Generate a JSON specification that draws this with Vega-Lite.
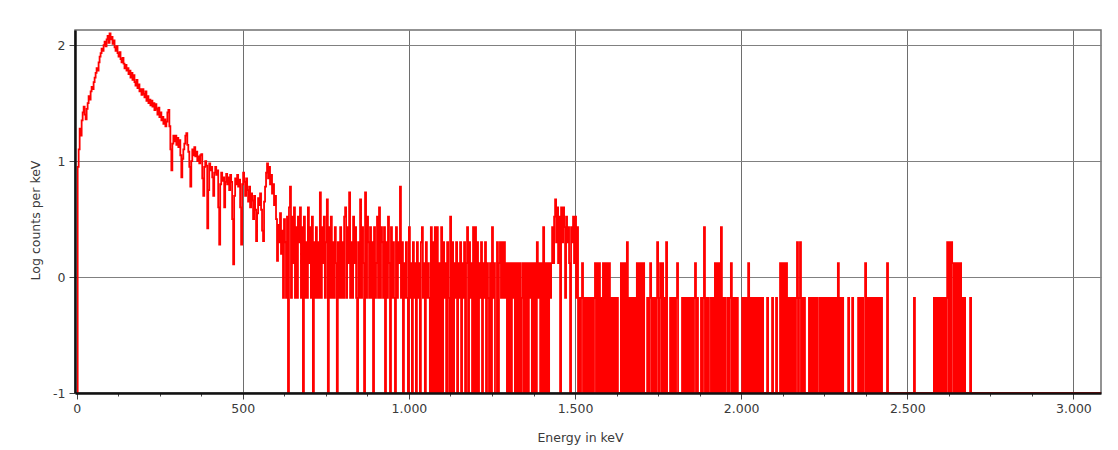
{
"$schema": "https://vega.github.io/schema/vega-lite/v6.json",
"width": 1026,
"height": 363,
"autosize": {"type": "none"},
"padding": {"left": 75, "top": 30, "right": 17, "bottom": 57},
"background": "white",
"config": {
  "view": {"stroke": "#707070", "strokeWidth": 1.5},
  "axis": {"labelFont": "DejaVu Sans", "titleFont": "DejaVu Sans", "labelFontSize": 12.5, "titleFontSize": 12.5, "titleFontWeight": "normal", "labelColor": "#3a3a3a", "titleColor": "#3a3a3a"}
},
"data": {"values": [
{"e":0,"v":-1},{"e":3,"v":0.95},{"e":6,"v":1.1},{"e":9,"v":1.28},{"e":12,"v":1.22},{"e":15,"v":1.35},{"e":18,"v":1.42},{"e":21,"v":1.47},{"e":24,"v":1.4},{"e":27,"v":1.36},{"e":30,"v":1.45},{"e":33,"v":1.5},{"e":36,"v":1.56},{"e":39,"v":1.53},{"e":42,"v":1.6},{"e":45,"v":1.64},{"e":48,"v":1.62},{"e":51,"v":1.68},{"e":54,"v":1.72},{"e":57,"v":1.76},{"e":60,"v":1.8},{"e":63,"v":1.78},{"e":66,"v":1.85},{"e":69,"v":1.9},{"e":72,"v":1.93},{"e":75,"v":1.97},{"e":78,"v":1.95},{"e":81,"v":2.0},{"e":84,"v":2.03},{"e":87,"v":1.99},{"e":90,"v":2.05},{"e":93,"v":2.08},{"e":96,"v":2.02},{"e":99,"v":2.1},{"e":102,"v":2.05},{"e":105,"v":2.07},{"e":108,"v":2.01},{"e":111,"v":2.04},{"e":114,"v":1.98},{"e":117,"v":1.95},{"e":120,"v":1.99},{"e":123,"v":1.93},{"e":126,"v":1.9},{"e":129,"v":1.94},{"e":132,"v":1.88},{"e":135,"v":1.85},{"e":138,"v":1.89},{"e":141,"v":1.84},{"e":144,"v":1.8},{"e":147,"v":1.83},{"e":150,"v":1.78},{"e":153,"v":1.8},{"e":156,"v":1.75},{"e":159,"v":1.78},{"e":162,"v":1.72},{"e":165,"v":1.76},{"e":168,"v":1.7},{"e":171,"v":1.74},{"e":174,"v":1.68},{"e":177,"v":1.65},{"e":180,"v":1.7},{"e":183,"v":1.63},{"e":186,"v":1.66},{"e":189,"v":1.6},{"e":192,"v":1.62},{"e":195,"v":1.57},{"e":198,"v":1.62},{"e":201,"v":1.58},{"e":204,"v":1.55},{"e":207,"v":1.6},{"e":210,"v":1.52},{"e":213,"v":1.56},{"e":216,"v":1.5},{"e":219,"v":1.53},{"e":222,"v":1.48},{"e":225,"v":1.52},{"e":228,"v":1.47},{"e":231,"v":1.5},{"e":234,"v":1.44},{"e":237,"v":1.49},{"e":240,"v":1.45},{"e":243,"v":1.4},{"e":246,"v":1.46},{"e":249,"v":1.38},{"e":252,"v":1.42},{"e":255,"v":1.35},{"e":258,"v":1.38},{"e":261,"v":1.32},{"e":264,"v":1.36},{"e":267,"v":1.3},{"e":270,"v":1.34},{"e":273,"v":1.42},{"e":276,"v":1.44},{"e":279,"v":1.3},{"e":282,"v":1.1},{"e":285,"v":0.92},{"e":288,"v":1.15},{"e":291,"v":1.22},{"e":294,"v":1.17},{"e":297,"v":1.22},{"e":300,"v":1.14},{"e":303,"v":1.2},{"e":306,"v":1.12},{"e":309,"v":1.18},{"e":312,"v":1.05},{"e":315,"v":0.86},{"e":318,"v":1.02},{"e":321,"v":1.1},{"e":324,"v":1.15},{"e":327,"v":1.22},{"e":330,"v":1.24},{"e":333,"v":1.14},{"e":336,"v":1.08},{"e":339,"v":0.95},{"e":342,"v":0.78},{"e":345,"v":1.0},{"e":348,"v":1.1},{"e":351,"v":1.05},{"e":354,"v":1.12},{"e":357,"v":1.04},{"e":360,"v":1.08},{"e":363,"v":1.0},{"e":366,"v":1.04},{"e":369,"v":0.98},{"e":372,"v":1.05},{"e":375,"v":1.06},{"e":378,"v":0.85},{"e":381,"v":0.7},{"e":384,"v":0.95},{"e":387,"v":1.0},{"e":390,"v":0.96},{"e":393,"v":0.42},{"e":396,"v":0.75},{"e":399,"v":0.98},{"e":402,"v":0.92},{"e":405,"v":0.95},{"e":408,"v":0.86},{"e":411,"v":0.7},{"e":414,"v":0.9},{"e":417,"v":0.95},{"e":420,"v":0.88},{"e":423,"v":0.92},{"e":426,"v":0.6},{"e":429,"v":0.28},{"e":432,"v":0.8},{"e":435,"v":0.9},{"e":438,"v":0.83},{"e":441,"v":0.86},{"e":444,"v":0.6},{"e":447,"v":0.82},{"e":450,"v":0.89},{"e":453,"v":0.8},{"e":456,"v":0.86},{"e":459,"v":0.75},{"e":462,"v":0.88},{"e":465,"v":0.82},{"e":468,"v":0.5},{"e":471,"v":0.11},{"e":474,"v":0.7},{"e":477,"v":0.85},{"e":480,"v":0.8},{"e":483,"v":0.88},{"e":486,"v":0.78},{"e":489,"v":0.84},{"e":492,"v":0.6},{"e":495,"v":0.28},{"e":498,"v":0.8},{"e":501,"v":0.9},{"e":504,"v":0.82},{"e":507,"v":0.7},{"e":510,"v":0.85},{"e":513,"v":0.75},{"e":516,"v":0.65},{"e":519,"v":0.78},{"e":522,"v":0.6},{"e":525,"v":0.72},{"e":528,"v":0.66},{"e":531,"v":0.5},{"e":534,"v":0.7},{"e":537,"v":0.58},{"e":540,"v":0.31},{"e":543,"v":0.55},{"e":546,"v":0.68},{"e":549,"v":0.62},{"e":552,"v":0.72},{"e":555,"v":0.58},{"e":558,"v":0.4},{"e":561,"v":0.31},{"e":564,"v":0.65},{"e":567,"v":0.78},{"e":570,"v":0.9},{"e":573,"v":0.98},{"e":576,"v":0.85},{"e":579,"v":0.95},{"e":582,"v":0.8},{"e":585,"v":0.88},{"e":588,"v":0.72},{"e":591,"v":0.8},{"e":594,"v":0.62},{"e":597,"v":0.7},{"e":600,"v":0.5},{"e":603,"v":0.14},{"e":606,"v":0.45},{"e":609,"v":0.3},{"e":612,"v":0.55},{"e":615,"v":0.2},{"e":618,"v":0.4},{"e":621,"v":-0.18},{"e":624,"v":0.5},{"e":627,"v":0.3},
{"e":630,"v":-0.18},{"e":633,"v":0.52},{"e":636,"v":-1},{"e":639,"v":0.6},{"e":642,"v":0.78},{"e":645,"v":-0.18},{"e":648,"v":0.52},{"e":651,"v":0.12},{"e":654,"v":0.6},{"e":657,"v":-0.18},{"e":660,"v":0.43},{"e":663,"v":-0.18},{"e":666,"v":0.52},{"e":669,"v":0.3},{"e":672,"v":0.6},{"e":675,"v":-0.18},{"e":678,"v":0.43},{"e":681,"v":-1},{"e":684,"v":0.52},{"e":687,"v":-0.18},{"e":690,"v":0.3},{"e":693,"v":-0.18},{"e":696,"v":0.6},{"e":699,"v":0.12},{"e":702,"v":0.43},{"e":705,"v":-0.18},{"e":708,"v":0.52},{"e":711,"v":-1},{"e":714,"v":0.3},{"e":717,"v":-0.18},{"e":720,"v":0.43},{"e":723,"v":-0.18},{"e":726,"v":0.3},{"e":729,"v":-0.18},{"e":732,"v":0.73},{"e":735,"v":-0.18},{"e":738,"v":0.43},{"e":741,"v":0.12},{"e":744,"v":0.52},{"e":747,"v":-0.18},{"e":750,"v":0.3},{"e":753,"v":0.67},{"e":756,"v":-1},{"e":759,"v":0.43},{"e":762,"v":-0.18},{"e":765,"v":0.52},{"e":768,"v":-0.18},{"e":771,"v":0.3},{"e":774,"v":-0.18},{"e":777,"v":0.43},{"e":780,"v":0.12},{"e":783,"v":-1},{"e":786,"v":0.3},{"e":789,"v":-0.18},{"e":793,"v":0.43},{"e":796,"v":-0.18},{"e":799,"v":0.3},{"e":802,"v":-0.18},{"e":805,"v":0.52},{"e":808,"v":0.6},{"e":811,"v":-0.18},{"e":814,"v":0.43},{"e":817,"v":0.12},{"e":820,"v":0.73},{"e":823,"v":-0.18},{"e":826,"v":0.3},{"e":829,"v":-0.18},{"e":832,"v":0.52},{"e":835,"v":0.12},{"e":838,"v":0.43},{"e":841,"v":-0.18},{"e":844,"v":-1},{"e":847,"v":0.3},{"e":850,"v":-0.18},{"e":853,"v":0.67},{"e":856,"v":-0.18},{"e":859,"v":0.43},{"e":862,"v":0.12},{"e":865,"v":-1},{"e":868,"v":0.73},{"e":871,"v":-0.18},{"e":874,"v":0.52},{"e":877,"v":0.3},{"e":880,"v":-0.18},{"e":883,"v":0.43},{"e":886,"v":-0.18},{"e":889,"v":0.3},{"e":892,"v":-1},{"e":895,"v":0.43},{"e":898,"v":-0.18},{"e":901,"v":0.12},{"e":904,"v":0.52},{"e":907,"v":-0.18},{"e":910,"v":0.6},{"e":913,"v":-0.18},{"e":916,"v":0.43},{"e":919,"v":0.3},{"e":922,"v":-0.18},{"e":925,"v":0.43},{"e":928,"v":-1},{"e":931,"v":0.3},{"e":934,"v":-0.18},{"e":937,"v":0.52},{"e":940,"v":0.12},{"e":943,"v":-1},{"e":946,"v":0.43},{"e":949,"v":-0.18},{"e":952,"v":0.3},{"e":955,"v":-0.18},{"e":958,"v":-1},{"e":961,"v":0.43},{"e":964,"v":-0.18},{"e":967,"v":0.3},{"e":970,"v":0.12},{"e":973,"v":0.78},{"e":976,"v":-0.18},{"e":979,"v":0.3},{"e":982,"v":-1},{"e":985,"v":0.12},{"e":988,"v":-0.18},{"e":991,"v":0.3},{"e":994,"v":-0.18},{"e":997,"v":-1},{"e":1000,"v":0.43},{"e":1003,"v":-0.18},{"e":1006,"v":0.12},{"e":1009,"v":-1},{"e":1012,"v":0.3},{"e":1015,"v":-0.18},{"e":1018,"v":0.12},{"e":1021,"v":-1},{"e":1024,"v":0.3},{"e":1027,"v":-0.18},{"e":1030,"v":0.12},{"e":1033,"v":-1},{"e":1036,"v":0.3},{"e":1039,"v":0.43},{"e":1042,"v":-0.18},{"e":1045,"v":0.12},{"e":1048,"v":-1},{"e":1051,"v":0.3},{"e":1054,"v":-0.18},{"e":1057,"v":0.12},{"e":1060,"v":-0.18},{"e":1063,"v":-1},{"e":1066,"v":0.43},{"e":1069,"v":-1},{"e":1072,"v":0.3},{"e":1075,"v":-1},{"e":1078,"v":0.43},{"e":1081,"v":-1},{"e":1084,"v":0.43},{"e":1087,"v":-1},{"e":1090,"v":0.12},{"e":1094,"v":-1},{"e":1097,"v":0.43},{"e":1100,"v":-1},{"e":1103,"v":0.3},{"e":1106,"v":-0.18},{"e":1109,"v":0.12},{"e":1112,"v":-1},{"e":1115,"v":0.3},{"e":1118,"v":-0.18},{"e":1121,"v":-1},{"e":1124,"v":0.52},{"e":1127,"v":-1},{"e":1130,"v":0.3},{"e":1133,"v":-1},{"e":1136,"v":0.12},{"e":1139,"v":-0.18},{"e":1142,"v":0.3},{"e":1145,"v":-1},{"e":1148,"v":0.12},{"e":1151,"v":-0.18},{"e":1154,"v":0.3},{"e":1157,"v":-1},{"e":1160,"v":0.12},{"e":1163,"v":-0.18},{"e":1166,"v":0.3},{"e":1169,"v":-1},{"e":1172,"v":0.12},{"e":1175,"v":0.43},{"e":1178,"v":-1},{"e":1181,"v":0.3},{"e":1184,"v":-0.18},{"e":1187,"v":0.12},{"e":1190,"v":-1},{"e":1193,"v":0.43},{"e":1196,"v":-1},{"e":1199,"v":0.43},{"e":1202,"v":-1},{"e":1205,"v":0.3},{"e":1208,"v":-1},{"e":1211,"v":0.12},{"e":1214,"v":-0.18},{"e":1217,"v":0.3},{"e":1220,"v":-1},{"e":1223,"v":0.12},{"e":1226,"v":-0.18},{"e":1229,"v":0.3},{"e":1232,"v":-1},{"e":1235,"v":0.12},{"e":1238,"v":-0.18},{"e":1241,"v":-1},{"e":1244,"v":0.12},{"e":1247,"v":-1},{"e":1250,"v":0.43},{"e":1253,"v":-0.18},{"e":1256,"v":0.12},{"e":1259,"v":-1},{"e":1262,"v":-1},{"e":1265,"v":0.3},{"e":1268,"v":-1},{"e":1271,"v":0.12},{"e":1274,"v":0.3},{"e":1277,"v":-0.18},{"e":1280,"v":0.3},{"e":1283,"v":-0.18},{"e":1286,"v":0.3},{"e":1289,"v":-0.18},{"e":1292,"v":0.12},{"e":1295,"v":-1},{"e":1298,"v":0.12},{"e":1301,"v":-1},{"e":1304,"v":0.12},{"e":1307,"v":-1},{"e":1310,"v":0.12},{"e":1313,"v":-0.18},{"e":1316,"v":0.12},{"e":1319,"v":-1},{"e":1322,"v":0.12},{"e":1325,"v":-1},{"e":1328,"v":0.12},{"e":1331,"v":-1},{"e":1334,"v":0.12},{"e":1337,"v":-1},{"e":1340,"v":-0.18},{"e":1343,"v":0.12},{"e":1346,"v":-1},{"e":1349,"v":0.12},{"e":1352,"v":-1},{"e":1355,"v":0.12},{"e":1358,"v":-1},{"e":1361,"v":0.12},{"e":1364,"v":-0.18},{"e":1367,"v":0.12},{"e":1370,"v":-1},{"e":1373,"v":0.12},{"e":1376,"v":-1},{"e":1379,"v":0.12},{"e":1382,"v":-1},{"e":1385,"v":0.3},{"e":1388,"v":-0.18},{"e":1391,"v":0.12},{"e":1395,"v":-1},{"e":1398,"v":0.12},{"e":1401,"v":-1},{"e":1404,"v":0.43},{"e":1407,"v":-1},{"e":1410,"v":0.12},{"e":1413,"v":-1},{"e":1416,"v":0.12},{"e":1419,"v":-1},{"e":1422,"v":0.12},{"e":1425,"v":-0.18},{"e":1428,"v":0.12},{"e":1431,"v":0.43},{"e":1434,"v":0.12},{"e":1437,"v":0.52},{"e":1440,"v":0.67},{"e":1443,"v":0.3},{"e":1446,"v":0.6},{"e":1449,"v":0.12},{"e":1452,"v":0.52},{"e":1455,"v":-1},{"e":1458,"v":0.6},{"e":1461,"v":0.3},{"e":1464,"v":0.6},{"e":1467,"v":0.43},{"e":1470,"v":-0.18},{"e":1473,"v":0.52},{"e":1476,"v":0.3},{"e":1479,"v":0.43},{"e":1482,"v":0.12},{"e":1485,"v":-1},{"e":1488,"v":0.43},{"e":1491,"v":0.3},{"e":1494,"v":0.52},{"e":1497,"v":0.12},{"e":1500,"v":0.52},{"e":1503,"v":-0.18},{"e":1506,"v":0.43},{"e":1509,"v":-1},{"e":1512,"v":-0.18},{"e":1515,"v":-1},{"e":1518,"v":-0.18},{"e":1521,"v":0.12},{"e":1524,"v":-1},{"e":1527,"v":-0.18},{"e":1530,"v":-1},{"e":1533,"v":-0.18},{"e":1536,"v":-1},{"e":1539,"v":-0.18},{"e":1542,"v":-1},{"e":1545,"v":-0.18},{"e":1548,"v":-1},{"e":1551,"v":-0.18},{"e":1554,"v":-1},{"e":1557,"v":-0.18},{"e":1560,"v":0.12},{"e":1563,"v":-1},{"e":1566,"v":0.12},{"e":1569,"v":-1},{"e":1572,"v":0.12},{"e":1575,"v":-1},{"e":1578,"v":-0.18},{"e":1581,"v":-1},{"e":1584,"v":0.12},{"e":1587,"v":-1},{"e":1590,"v":0.12},{"e":1593,"v":-1},{"e":1596,"v":0.12},{"e":1599,"v":-1},{"e":1602,"v":0.12},{"e":1605,"v":-1},{"e":1608,"v":-0.18},{"e":1611,"v":-1},{"e":1614,"v":-0.18},{"e":1617,"v":-1},{"e":1620,"v":-0.18},{"e":1623,"v":-1},{"e":1626,"v":-0.18},{"e":1629,"v":-1},{"e":1638,"v":0.12},{"e":1641,"v":-1},{"e":1644,"v":0.12},{"e":1647,"v":-1},{"e":1650,"v":0.12},{"e":1653,"v":-1},{"e":1656,"v":0.3},{"e":1659,"v":-1},{"e":1662,"v":-0.18},{"e":1665,"v":-1},{"e":1668,"v":-0.18},{"e":1671,"v":-1},{"e":1674,"v":-0.18},{"e":1677,"v":-1},{"e":1680,"v":-0.18},{"e":1683,"v":-1},{"e":1686,"v":0.12},{"e":1689,"v":-1},{"e":1692,"v":0.12},{"e":1696,"v":-1},{"e":1699,"v":0.12},{"e":1702,"v":-1},{"e":1705,"v":0.12},{"e":1708,"v":-1},{"e":1717,"v":-0.18},{"e":1720,"v":-1},{"e":1723,"v":-0.18},{"e":1726,"v":0.12},{"e":1729,"v":-1},{"e":1732,"v":-0.18},{"e":1735,"v":-1},{"e":1738,"v":-0.18},{"e":1741,"v":-1},{"e":1744,"v":-0.18},{"e":1747,"v":0.3},{"e":1750,"v":-1},{"e":1753,"v":-0.18},{"e":1756,"v":0.12},{"e":1759,"v":-1},{"e":1762,"v":0.12},{"e":1765,"v":-1},{"e":1768,"v":-0.18},{"e":1771,"v":-1},{"e":1774,"v":0.3},{"e":1777,"v":-1},{"e":1786,"v":-0.18},{"e":1789,"v":-1},{"e":1792,"v":-0.18},{"e":1795,"v":-1},{"e":1798,"v":-0.18},{"e":1801,"v":-1},{"e":1804,"v":-0.18},{"e":1807,"v":0.12},{"e":1810,"v":-1},{"e":1822,"v":-0.18},{"e":1825,"v":-1},{"e":1828,"v":-0.18},{"e":1831,"v":-1},{"e":1834,"v":-0.18},{"e":1837,"v":-1},{"e":1840,"v":-0.18},{"e":1843,"v":-1},{"e":1846,"v":-0.18},{"e":1849,"v":-1},{"e":1852,"v":-0.18},{"e":1855,"v":-1},{"e":1858,"v":-0.18},{"e":1861,"v":0.12},{"e":1864,"v":-1},{"e":1867,"v":-0.18},{"e":1870,"v":-1},{"e":1879,"v":-0.18},{"e":1882,"v":-1},{"e":1885,"v":-0.18},{"e":1888,"v":0.43},{"e":1891,"v":-1},{"e":1894,"v":-0.18},{"e":1897,"v":-1},{"e":1900,"v":-0.18},{"e":1903,"v":-1},{"e":1909,"v":-0.18},{"e":1912,"v":-1},{"e":1915,"v":-0.18},{"e":1918,"v":-1},{"e":1921,"v":0.12},{"e":1924,"v":-1},{"e":1927,"v":0.12},{"e":1930,"v":-1},{"e":1933,"v":0.12},{"e":1936,"v":-1},{"e":1939,"v":0.43},{"e":1942,"v":-1},{"e":1945,"v":-0.18},{"e":1948,"v":-1},{"e":1951,"v":-0.18},{"e":1954,"v":-1},{"e":1960,"v":-0.18},{"e":1963,"v":-1},{"e":1966,"v":-0.18},{"e":1969,"v":0.12},{"e":1972,"v":-1},{"e":1975,"v":-0.18},{"e":1978,"v":-1},{"e":1981,"v":-0.18},{"e":1984,"v":-1},{"e":1987,"v":-0.18},{"e":1990,"v":-1},{"e":2003,"v":-0.18},{"e":2006,"v":-1},{"e":2009,"v":-0.18},{"e":2012,"v":-1},{"e":2015,"v":-0.18},{"e":2018,"v":-1},{"e":2021,"v":0.12},{"e":2024,"v":-1},{"e":2027,"v":-0.18},{"e":2030,"v":-1},{"e":2033,"v":-0.18},{"e":2036,"v":-1},{"e":2039,"v":-0.18},{"e":2042,"v":-1},{"e":2045,"v":-0.18},{"e":2048,"v":-1},{"e":2051,"v":-0.18},{"e":2054,"v":-1},{"e":2057,"v":-0.18},{"e":2060,"v":-1},{"e":2063,"v":-0.18},{"e":2066,"v":-1},{"e":2078,"v":-0.18},{"e":2081,"v":-1},{"e":2093,"v":-0.18},{"e":2096,"v":-1},{"e":2105,"v":-0.18},{"e":2108,"v":-1},{"e":2117,"v":0.12},{"e":2120,"v":-1},{"e":2123,"v":0.12},{"e":2126,"v":-1},{"e":2129,"v":0.12},{"e":2132,"v":-1},{"e":2135,"v":0.12},{"e":2138,"v":-1},{"e":2141,"v":-0.18},{"e":2144,"v":-1},{"e":2147,"v":-0.18},{"e":2150,"v":-1},{"e":2153,"v":-0.18},{"e":2156,"v":-1},{"e":2159,"v":-0.18},{"e":2162,"v":-1},{"e":2165,"v":-0.18},{"e":2168,"v":0.3},{"e":2171,"v":-1},{"e":2174,"v":-0.18},{"e":2177,"v":0.3},{"e":2180,"v":-1},{"e":2183,"v":-0.18},{"e":2186,"v":-1},{"e":2189,"v":-0.18},{"e":2192,"v":-1},{"e":2204,"v":-0.18},{"e":2207,"v":-1},{"e":2210,"v":-0.18},{"e":2213,"v":-1},{"e":2216,"v":-0.18},{"e":2219,"v":-1},{"e":2222,"v":-0.18},{"e":2225,"v":-1},{"e":2228,"v":-0.18},{"e":2231,"v":-1},{"e":2237,"v":-0.18},{"e":2240,"v":-1},{"e":2243,"v":-0.18},{"e":2246,"v":-1},{"e":2249,"v":-0.18},{"e":2252,"v":-1},{"e":2255,"v":-0.18},{"e":2258,"v":-1},{"e":2261,"v":-0.18},{"e":2264,"v":-1},{"e":2267,"v":-0.18},{"e":2270,"v":-1},{"e":2273,"v":-0.18},{"e":2276,"v":-1},{"e":2279,"v":-0.18},{"e":2282,"v":-1},{"e":2285,"v":-0.18},{"e":2288,"v":-1},{"e":2291,"v":0.12},{"e":2294,"v":-1},{"e":2298,"v":-0.18},{"e":2301,"v":-1},{"e":2304,"v":-0.18},{"e":2307,"v":-1},{"e":2322,"v":-0.18},{"e":2325,"v":-1},{"e":2334,"v":-0.18},{"e":2337,"v":-1},{"e":2352,"v":-0.18},{"e":2355,"v":-1},{"e":2358,"v":-0.18},{"e":2361,"v":-1},{"e":2364,"v":-0.18},{"e":2367,"v":-1},{"e":2373,"v":0.12},{"e":2376,"v":-1},{"e":2379,"v":-0.18},{"e":2382,"v":-1},{"e":2385,"v":-0.18},{"e":2388,"v":-1},{"e":2391,"v":-0.18},{"e":2394,"v":-1},{"e":2397,"v":-0.18},{"e":2400,"v":-1},{"e":2403,"v":-0.18},{"e":2406,"v":-1},{"e":2409,"v":-0.18},{"e":2412,"v":-1},{"e":2415,"v":-0.18},{"e":2418,"v":-1},{"e":2421,"v":-0.18},{"e":2424,"v":-1},{"e":2439,"v":0.12},{"e":2442,"v":-1},{"e":2520,"v":-0.18},{"e":2523,"v":-1},{"e":2580,"v":-0.18},{"e":2583,"v":-1},{"e":2586,"v":-0.18},{"e":2589,"v":-1},{"e":2592,"v":-0.18},{"e":2595,"v":-1},{"e":2599,"v":-0.18},{"e":2602,"v":-1},{"e":2605,"v":-0.18},{"e":2608,"v":-1},{"e":2611,"v":-0.18},{"e":2614,"v":-1},{"e":2617,"v":-0.18},{"e":2620,"v":0.3},{"e":2623,"v":-1},{"e":2626,"v":0.3},{"e":2629,"v":-1},{"e":2632,"v":0.3},{"e":2635,"v":0.12},{"e":2638,"v":-1},{"e":2641,"v":0.12},{"e":2644,"v":-1},{"e":2647,"v":0.12},{"e":2650,"v":-1},{"e":2653,"v":0.12},{"e":2656,"v":-1},{"e":2659,"v":0.12},{"e":2662,"v":-1},{"e":2665,"v":-0.18},{"e":2668,"v":-1},{"e":2671,"v":-0.18},{"e":2674,"v":-1},{"e":2689,"v":-0.18},{"e":2692,"v":-1},{"e":3083,"v":-1}
]},
"layer": [
  {
    "mark": {"type": "line", "interpolate": "step-after", "color": "#ff0000", "strokeWidth": 1.8},
    "encoding": {
      "x": {"field": "e", "type": "quantitative", "scale": {"domain": [-5, 3083], "nice": false, "zero": false},
        "axis": {"orient": "bottom", "values": [500, 1000, 1500, 2000, 2500, 3000], "grid": true, "gridColor": "#6e6e6e", "gridWidth": 1, "domain": false, "ticks": false, "labels": false, "title": null, "zindex": 0}},
      "y": {"field": "v", "type": "quantitative", "scale": {"domain": [-1, 2.13], "nice": false, "zero": false},
        "axis": {"orient": "left", "values": [0, 1, 2], "grid": true, "gridColor": "#808080", "gridWidth": 1, "domain": false, "ticks": false, "labels": false, "title": null, "zindex": 0}}
    }
  },
  {
    "mark": {"type": "point", "opacity": 0},
    "encoding": {
      "x": {"field": "e", "type": "quantitative",
        "axis": {"orient": "bottom", "values": [0,125,250,375,500,625,750,875,1000,1125,1250,1375,1500,1625,1750,1875,2000,2125,2250,2375,2500,2625,2750,2875,3000], "grid": false, "domainColor": "#111111", "domainWidth": 2.5, "tickColor": "#444444", "tickSize": {"condition": {"test": "datum.value % 500 === 0", "value": 6}, "value": 3}, "labelExpr": "datum.value % 500 === 0 ? replace(format(datum.value, ','), ',', '.') : ''", "labelOverlap": false, "labelFlush": false, "labelPadding": 3, "title": "Energy in keV", "titleX": 505, "titleY": 44, "titleBaseline": "middle", "titleAlign": "center", "zindex": 1}},
      "y": {"field": "v", "type": "quantitative",
        "axis": {"orient": "left", "values": [-1, 0, 1, 2], "grid": false, "domainColor": "#111111", "domainWidth": 2.5, "tickColor": "#444444", "tickSize": 6, "labelExpr": "datum.value + ''", "labelOverlap": false, "labelFlush": false, "labelPadding": 4, "title": "Log counts per keV", "titleX": -40, "titleY": 190, "titleBaseline": "middle", "titleAlign": "center", "zindex": 1}}
    }
  }
],
"resolve": {"axis": {"x": "independent", "y": "independent"}}
}
